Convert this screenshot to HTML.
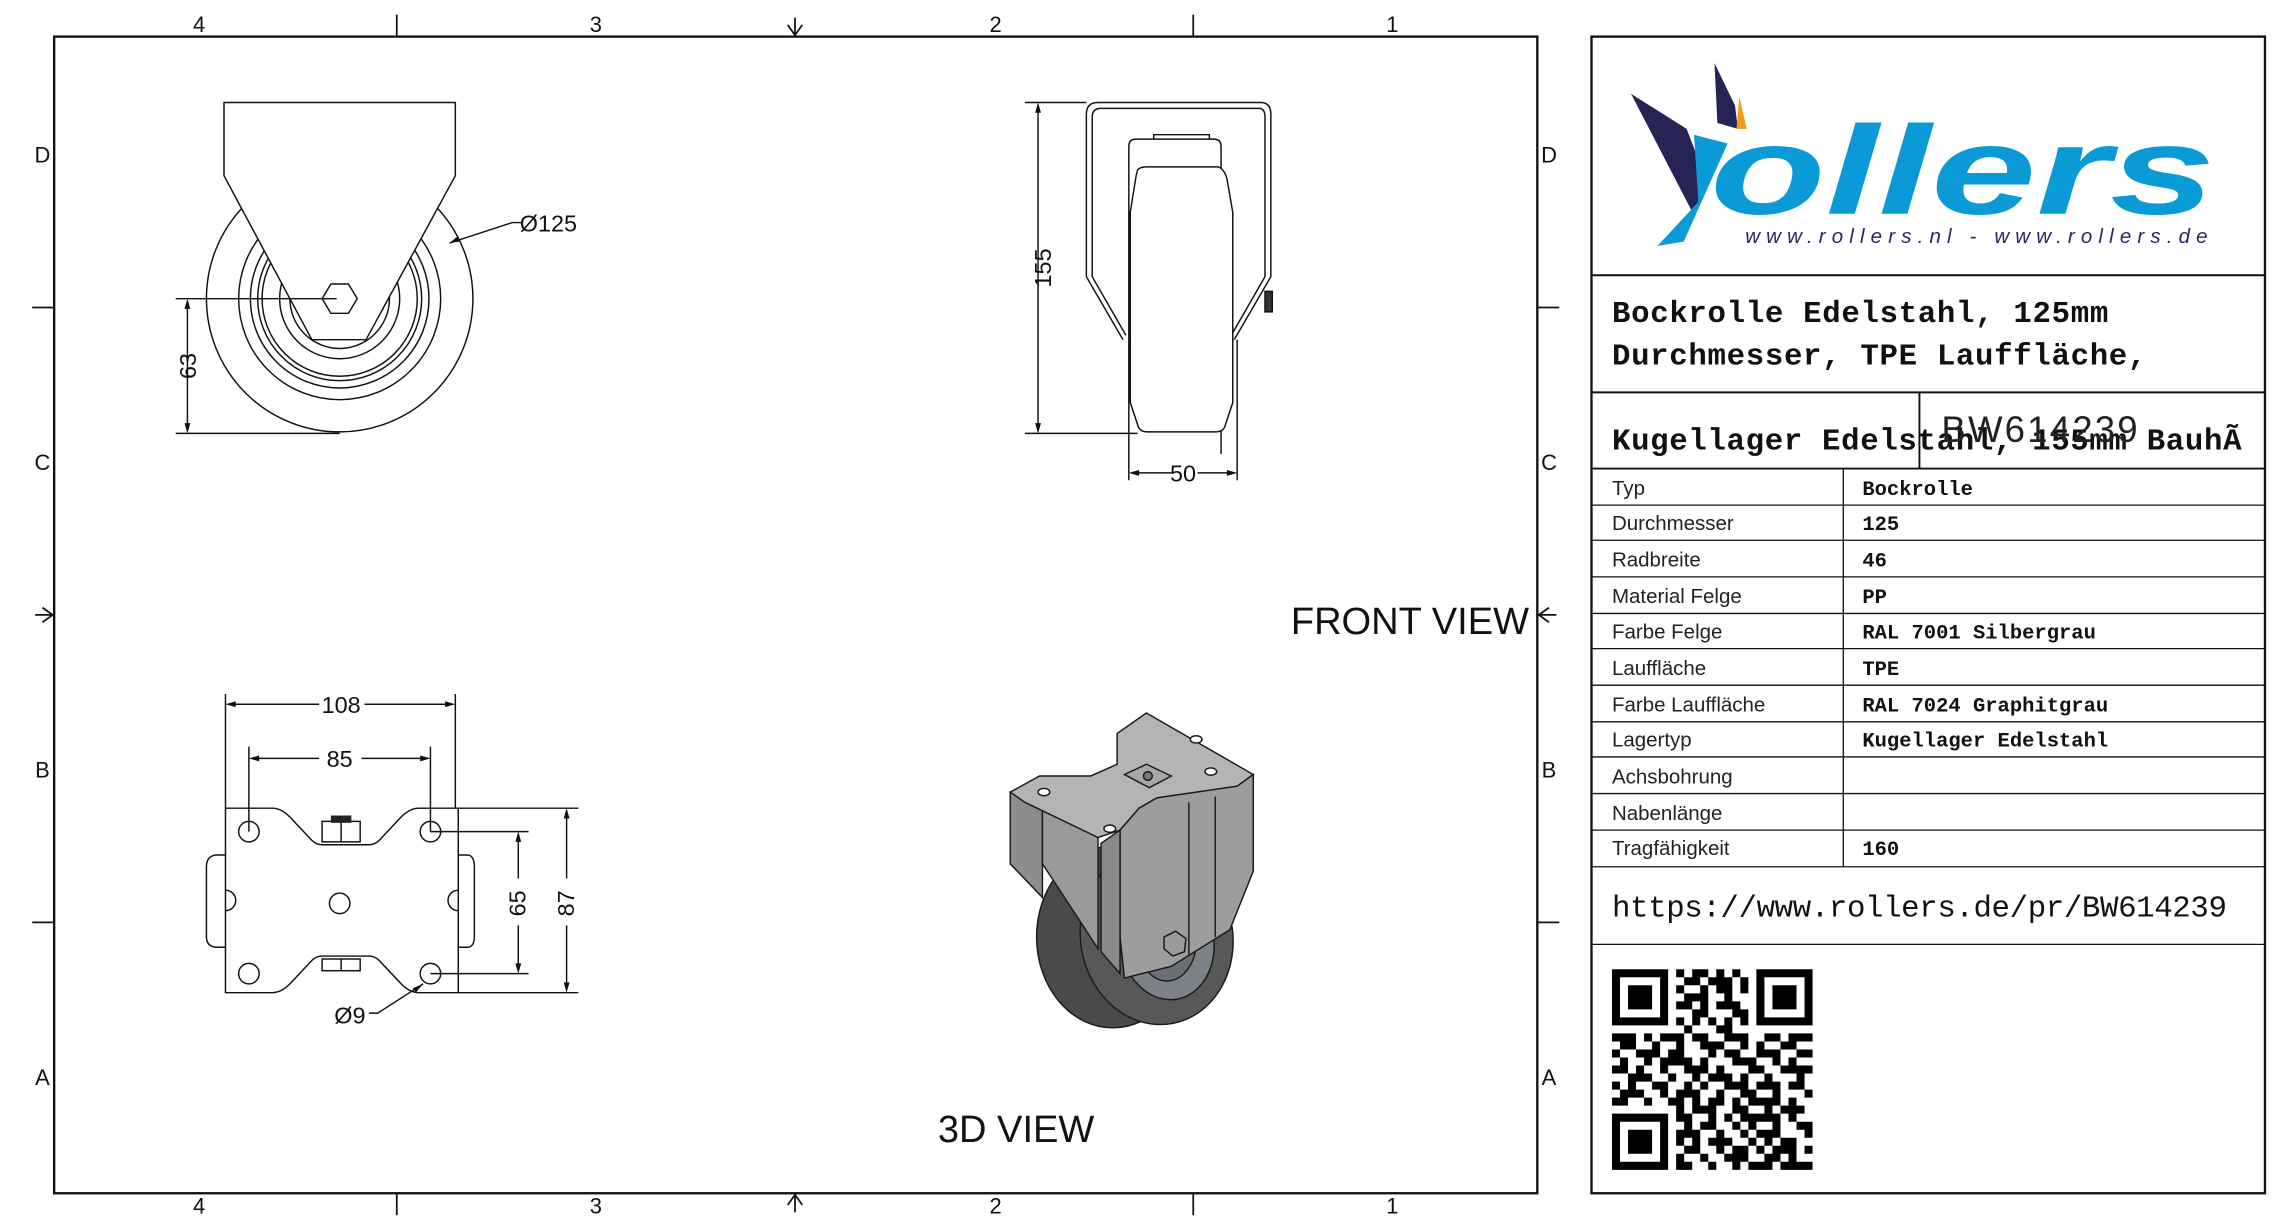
<!DOCTYPE html>
<html><head><meta charset="utf-8"><style>
html,body{margin:0;padding:0;background:#fff;}
svg{display:block;}
text{font-family:"DejaVu Sans","Liberation Sans",sans-serif;}
.m text,text.m{font-family:"Liberation Mono","DejaVu Sans Mono",monospace;}
.l text,text.l{font-family:"Liberation Sans",sans-serif;}
</style></head><body>
<svg width="2284" height="1224" viewBox="0 0 1560 836" preserveAspectRatio="none" xmlns="http://www.w3.org/2000/svg">
<rect width="1560" height="836" fill="#fff"/>
<g fill="none" stroke="#111" stroke-width="1.6">
<rect x="37" y="25" width="1013" height="790"/>
<rect x="1087" y="25" width="460" height="790"/>
</g>
<g stroke="#111" stroke-width="1.2" fill="none">
<line x1="271" y1="10" x2="271" y2="25"/><line x1="815" y1="10" x2="815" y2="25"/>
<line x1="271" y1="815" x2="271" y2="830"/><line x1="815" y1="815" x2="815" y2="830"/>
<line x1="22" y1="210" x2="37" y2="210"/><line x1="22" y1="630" x2="37" y2="630"/>
<line x1="1050" y1="210" x2="1065" y2="210"/><line x1="1050" y1="630" x2="1065" y2="630"/>
<path d="M543 12v12M538 17l5 7 5-7"/>
<path d="M543 828v-12M538 823l5-7 5 7"/>
<path d="M24 420h12M29 415l7 5-7 5"/>
<path d="M1063 420h-12M1058 415l-7 5 7 5"/>
</g>
<g font-size="15" fill="#111" text-anchor="middle" class="l">
<text x="136" y="22">4</text><text x="407" y="22">3</text><text x="680" y="22">2</text><text x="951" y="22">1</text>
<text x="136" y="829">4</text><text x="407" y="829">3</text><text x="680" y="829">2</text><text x="951" y="829">1</text>
<text x="29" y="111">D</text><text x="29" y="321">C</text><text x="29" y="531">B</text><text x="29" y="741">A</text>
<text x="1058" y="111">D</text><text x="1058" y="321">C</text><text x="1058" y="531">B</text><text x="1058" y="741">A</text>
</g>

<g stroke="#111" stroke-width="1" fill="none">
<circle cx="232" cy="204" r="91"/>
<circle cx="232" cy="204" r="69"/>
<circle cx="232" cy="204" r="61"/>
<circle cx="232" cy="204" r="56"/>
<circle cx="232" cy="204" r="53"/>
<circle cx="232" cy="204" r="41"/>
<circle cx="232" cy="204" r="34"/>
<path d="M153 70H311V120L250 232H213L153 120Z" fill="#fff"/>
<polygon points="220,204 226,194 238,194 244,204 238,214 226,214"/>
<line x1="120" y1="204" x2="230" y2="204"/>
<line x1="120" y1="296" x2="232" y2="296"/>
<line x1="128" y1="206" x2="128" y2="294"/>
<path d="M307 166L350 152H357"/>
</g>
<g fill="#111"><path d="M128 204l-2 7h4z"/><path d="M128 296l-2-7h4z"/><path d="M307 166l6-5 1 4z"/></g>
<g class="l" fill="#111" font-size="16">
<text x="355" y="158">Ø125</text>
<text transform="translate(134,250) rotate(-90)" text-anchor="middle">63</text>
</g>

<g stroke="#111" stroke-width="1" fill="none">
<path d="M742 78Q742 70 750 70H861Q868 70 868 78V189L843 232"/>
<path d="M742 78V189L767 232"/>
<path d="M746 80Q746 74 752 74H860Q864 74 864 80V189L841 229"/>
<path d="M746 80V189L769 229"/>
<path d="M771 100Q771 95 776 95H829Q834 95 834 100V310"/>
<path d="M771 100V232"/>
<path d="M788 95V92H826V95"/>
<path d="M777 116Q779 114 783 114H832Q836 115 838 122L842 145V275L837 290Q836 295 830 295H784Q778 295 777 290L772 275V145L776 120Z" fill="#fff"/>
<line x1="771" y1="232" x2="771" y2="328"/><line x1="845" y1="232" x2="845" y2="328"/>
<line x1="700" y1="70" x2="742" y2="70"/><line x1="700" y1="296" x2="777" y2="296"/>
<line x1="709" y1="72" x2="709" y2="294"/>
<line x1="773" y1="323" x2="800" y2="323"/><line x1="818" y1="323" x2="843" y2="323"/>
<rect x="864" y="199" width="5" height="14" fill="#333"/>
</g>
<g fill="#111"><path d="M709 70l-2 7h4z"/><path d="M709 296l-2-7h4z"/><path d="M771 323l7-2v4z"/><path d="M845 323l-7-2v4z"/></g>
<g class="l" fill="#111" font-size="16" text-anchor="middle">
<text transform="translate(718,183) rotate(-90)">155</text>
<text x="808" y="329">50</text>
</g>

<g stroke="#111" stroke-width="1" fill="none">
<path d="M154 552H186Q192 552 198 558L213 574Q216 577 220 577H252Q256 577 259 574L274 558Q280 552 286 552H313V678H286Q280 678 274 672L259 656Q256 653 252 653H220Q216 653 213 656L198 672Q192 678 186 678H154Z" fill="#fff"/>
<path d="M154 584H147Q141 585 141 592V640Q141 646 147 647H154"/>
<path d="M313 584H320Q324 585 324 592V640Q324 646 320 647H313"/>
<path d="M154 608A7 7 0 0 1 154 622"/>
<path d="M313 608A7 7 0 0 0 313 622"/>
<circle cx="170" cy="568" r="7"/><circle cx="294" cy="568" r="7"/>
<circle cx="170" cy="665" r="7"/><circle cx="294" cy="665" r="7"/>
<circle cx="232" cy="617" r="7"/>
<rect x="220" y="561" width="26" height="14"/><line x1="233" y1="561" x2="233" y2="575"/>
<rect x="220" y="655" width="26" height="8"/><line x1="233" y1="655" x2="233" y2="663"/>
<line x1="154" y1="474" x2="154" y2="552"/><line x1="311" y1="474" x2="311" y2="552"/>
<line x1="156" y1="481" x2="218" y2="481"/><line x1="249" y1="481" x2="309" y2="481"/>
<line x1="170" y1="510" x2="170" y2="568"/><line x1="294" y1="510" x2="294" y2="568"/>
<line x1="172" y1="518" x2="218" y2="518"/><line x1="247" y1="518" x2="292" y2="518"/>
<line x1="294" y1="568" x2="361" y2="568"/><line x1="294" y1="665" x2="361" y2="665"/>
<line x1="354" y1="570" x2="354" y2="600"/><line x1="354" y1="632" x2="354" y2="663"/>
<line x1="313" y1="552" x2="395" y2="552"/><line x1="313" y1="678" x2="395" y2="678"/>
<line x1="387" y1="554" x2="387" y2="600"/><line x1="387" y1="632" x2="387" y2="676"/>
<path d="M252 692H258L289 672"/>
</g>
<rect x="226" y="557" width="14" height="5" fill="#222"/>
<g fill="#111">
<path d="M154 481l7-2v4z"/><path d="M311 481l-7-2v4z"/>
<path d="M170 518l7-2v4z"/><path d="M294 518l-7-2v4z"/>
<path d="M354 568l-2 7h4z"/><path d="M354 665l-2-7h4z"/>
<path d="M387 552l-2 7h4z"/><path d="M387 678l-2-7h4z"/>
<path d="M289 672l-5 6-2-3z"/>
</g>
<g font-size="16" fill="#111" text-anchor="middle" class="l">
<text x="233" y="487">108</text><text x="232" y="524">85</text>
<text transform="translate(359,617) rotate(-90)">65</text>
<text transform="translate(392,617) rotate(-90)">87</text>
<text x="239" y="699">Ø9</text>
</g>

<g stroke="#1a1a1a" stroke-width="1">
<path d="M690 541L712 553V613L690 590Z" fill="#8d8d8d"/>
<ellipse cx="760" cy="640" rx="52" ry="62" fill="#4a4a4a"/>
<ellipse cx="790" cy="640" rx="52" ry="60" fill="#585858" transform="rotate(-10 790 640)"/>
<ellipse cx="797" cy="643" rx="32" ry="40" fill="#7d8288" transform="rotate(-10 797 643)"/>
<ellipse cx="797" cy="643" rx="20" ry="27" fill="#6a6f75"/>
<path d="M712 553L750 572V648L712 590Z" fill="#9a9a9a"/>
<path d="M690 541L710 530H745L763 522V501L783 487L856 529L845 537L790 545L778 552L765 567L750 572L700 548Z" fill="#b4b4b4"/>
<path d="M765 567L778 552L790 545L845 537L856 529V595L840 635L800 660L768 668L765 640Z" fill="#9d9d9d"/>
<path d="M752 576L765 567V665L752 650Z" fill="#8a8a8a"/>
<path d="M768 529L783 522L800 530L785 538Z" fill="#a8a8a8"/>
<circle cx="784" cy="530" r="3" fill="#777"/>
<ellipse cx="713" cy="541" rx="4" ry="2.5" fill="#fff"/>
<ellipse cx="817" cy="505" rx="4" ry="2.5" fill="#fff"/>
<ellipse cx="827" cy="527" rx="4" ry="2.5" fill="#fff"/>
<ellipse cx="758" cy="566" rx="4" ry="2.5" fill="#fff"/>
<polygon points="795,640 803,636 810,641 809,650 801,653 795,648" fill="#9a9a9a"/>
<line x1="812" y1="548" x2="812" y2="652" fill="none"/>
<line x1="830" y1="544" x2="830" y2="640" fill="none"/>
</g>
<text x="694" y="780" font-size="26" text-anchor="middle" fill="#111" class="l">3D VIEW</text>
<text x="963" y="433" font-size="26" text-anchor="middle" fill="#111" class="l">FRONT VIEW</text>

<g stroke="#111" stroke-width="1.3">
<line x1="1087" y1="188" x2="1547" y2="188"/>
<line x1="1087" y1="268" x2="1547" y2="268"/>
<line x1="1087" y1="320" x2="1547" y2="320"/>
<line x1="1311" y1="268" x2="1311" y2="320"/>
</g>
<g stroke="#111" stroke-width="0.9">
<line x1="1087" y1="345" x2="1547" y2="345"/>
<line x1="1087" y1="369" x2="1547" y2="369"/>
<line x1="1087" y1="394" x2="1547" y2="394"/>
<line x1="1087" y1="419" x2="1547" y2="419"/>
<line x1="1087" y1="443" x2="1547" y2="443"/>
<line x1="1087" y1="468" x2="1547" y2="468"/>
<line x1="1087" y1="493" x2="1547" y2="493"/>
<line x1="1087" y1="517" x2="1547" y2="517"/>
<line x1="1087" y1="542" x2="1547" y2="542"/>
<line x1="1087" y1="567" x2="1547" y2="567"/>
<line x1="1087" y1="592" x2="1547" y2="592"/>
<line x1="1087" y1="645" x2="1547" y2="645"/>
<line x1="1259" y1="320" x2="1259" y2="592"/>
</g>
<path d="M1114 64L1152 88L1165 122L1157 147Z" fill="#272357"/>
<path d="M1171 43L1185 72L1187 88L1173 84Z" fill="#272357"/>
<path d="M1188 66L1193 88L1186 88Z" fill="#f29a1c"/>
<path d="M1157 92L1180 98L1150 165L1132 168L1160 138Z" fill="#0a9bd6"/>
<text x="1168" y="146" font-size="86" font-weight="bold" font-style="italic" fill="#0a9bd6" class="l" textLength="345" lengthAdjust="spacingAndGlyphs">ollers</text>
<text x="1192" y="166" font-size="14" font-style="italic" fill="#2a2660" class="l" letter-spacing="2.2" textLength="318">www.rollers.nl  -  www.rollers.de</text>
<g class="m" fill="#111" font-weight="bold">
<text x="1101" y="220" font-size="21" textLength="339">Bockrolle Edelstahl, 125mm</text>
<text x="1101" y="249" font-size="21" textLength="365">Durchmesser, TPE Lauffläche,</text>
<text x="1101" y="307" font-size="21" textLength="430">Kugellager Edelstahl, 155mm BauhÃ</text>
</g>
<text x="1326" y="302" font-size="25" fill="#222" class="l" textLength="134">BW614239</text>
<g font-size="14" fill="#222" class="l">
<text x="1101" y="338">Typ</text><text x="1101" y="362">Durchmesser</text><text x="1101" y="387">Radbreite</text>
<text x="1101" y="412">Material Felge</text><text x="1101" y="436">Farbe Felge</text><text x="1101" y="461">Lauffläche</text>
<text x="1101" y="486">Farbe Lauffläche</text><text x="1101" y="510">Lagertyp</text><text x="1101" y="535">Achsbohrung</text>
<text x="1101" y="560">Nabenlänge</text><text x="1101" y="584">Tragfähigkeit</text>
</g>
<g font-size="14" fill="#111" class="m" font-weight="bold">
<text x="1272" y="338">Bockrolle</text><text x="1272" y="362">125</text><text x="1272" y="387">46</text>
<text x="1272" y="412">PP</text><text x="1272" y="436">RAL 7001 Silbergrau</text><text x="1272" y="461">TPE</text>
<text x="1272" y="486">RAL 7024 Graphitgrau</text><text x="1272" y="510">Kugellager Edelstahl</text>
<text x="1272" y="584">160</text>
</g>
<text x="1101" y="626" font-size="21" fill="#111" class="m" textLength="420">https://www.rollers.de/pr/BW614239</text>
<g transform="translate(1101,662) scale(5.48)" fill="#000">
<path fill-rule="evenodd" d="M0 0h7v7h-7zM1 1v5h5v-5zM2 2h3v3h-3zM18 0h7v7h-7zM19 1v5h5v-5zM20 2h3v3h-3zM0 18h7v7h-7zM1 19v5h5v-5zM2 20h3v3h-3z"/>
<path d="M8 0h1v1h-1zM10 0h2v1h-2zM13 0h1v1h-1zM15 0h1v1h-1zM9 1h2v1h-2zM12 1h3v1h-3zM16 1h1v1h-1zM8 2h1v1h-1zM11 2h1v1h-1zM13 2h2v1h-2zM16 2h1v1h-1zM9 3h3v1h-3zM14 3h1v1h-1zM8 4h2v1h-2zM11 4h1v1h-1zM13 4h3v1h-3zM10 5h2v1h-2zM15 5h2v1h-2zM8 6h1v1h-1zM10 6h1v1h-1zM12 6h1v1h-1zM14 6h1v1h-1zM16 6h1v1h-1zM9 7h1v1h-1zM13 7h2v1h-2z
M0 8h3v1h-3zM4 8h1v1h-1zM6 8h3v1h-3zM10 8h2v1h-2zM14 8h3v1h-3zM19 8h2v1h-2zM22 8h3v1h-3z
M1 9h2v1h-2zM5 9h1v1h-1zM8 9h1v1h-1zM11 9h3v1h-3zM16 9h1v1h-1zM18 9h1v1h-1zM21 9h2v1h-2z
M0 10h1v1h-1zM3 10h3v1h-3zM7 10h2v1h-2zM12 10h1v1h-1zM14 10h2v1h-2zM18 10h3v1h-3zM23 10h2v1h-2z
M1 11h1v1h-1zM4 11h1v1h-1zM6 11h4v1h-4zM11 11h1v1h-1zM15 11h3v1h-3zM20 11h1v1h-1zM22 11h1v1h-1z
M0 12h2v1h-2zM3 12h1v1h-1zM6 12h1v1h-1zM9 12h3v1h-3zM13 12h1v1h-1zM17 12h2v1h-2zM21 12h4v1h-4z
M2 13h3v1h-3zM7 13h1v1h-1zM10 13h1v1h-1zM12 13h3v1h-3zM16 13h1v1h-1zM19 13h1v1h-1zM23 13h1v1h-1z
M0 14h1v1h-1zM2 14h1v1h-1zM5 14h2v1h-2zM9 14h1v1h-1zM11 14h1v1h-1zM14 14h3v1h-3zM18 14h3v1h-3zM22 14h2v1h-2z
M1 15h3v1h-3zM6 15h1v1h-1zM8 15h3v1h-3zM13 15h1v1h-1zM16 15h2v1h-2zM20 15h1v1h-1zM24 15h1v1h-1z
M0 16h2v1h-2zM4 16h1v1h-1zM7 16h2v1h-2zM10 16h1v1h-1zM12 16h2v1h-2zM15 16h1v1h-1zM17 16h4v1h-4zM22 16h1v1h-1z
M8 17h1v1h-1zM10 17h3v1h-3zM15 17h2v1h-2zM19 17h1v1h-1zM21 17h3v1h-3z
M8 18h2v1h-2zM12 18h1v1h-1zM14 18h1v1h-1zM16 18h5v1h-5zM22 18h1v1h-1z
M9 19h1v1h-1zM11 19h2v1h-2zM15 19h1v1h-1zM17 19h1v1h-1zM20 19h1v1h-1zM23 19h2v1h-2z
M8 20h3v1h-3zM13 20h1v1h-1zM16 20h1v1h-1zM18 20h3v1h-3zM24 20h1v1h-1z
M8 21h1v1h-1zM10 21h1v1h-1zM12 21h3v1h-3zM17 21h1v1h-1zM19 21h1v1h-1zM21 21h2v1h-2z
M9 22h2v1h-2zM13 22h1v1h-1zM15 22h2v1h-2zM18 22h1v1h-1zM20 22h3v1h-3zM24 22h1v1h-1z
M8 23h1v1h-1zM11 23h1v1h-1zM14 23h3v1h-3zM19 23h2v1h-2zM22 23h1v1h-1z
M8 24h2v1h-2zM12 24h1v1h-1zM15 24h1v1h-1zM17 24h3v1h-3zM21 24h4v1h-4z"/>
</g>
</svg>
</body></html>
